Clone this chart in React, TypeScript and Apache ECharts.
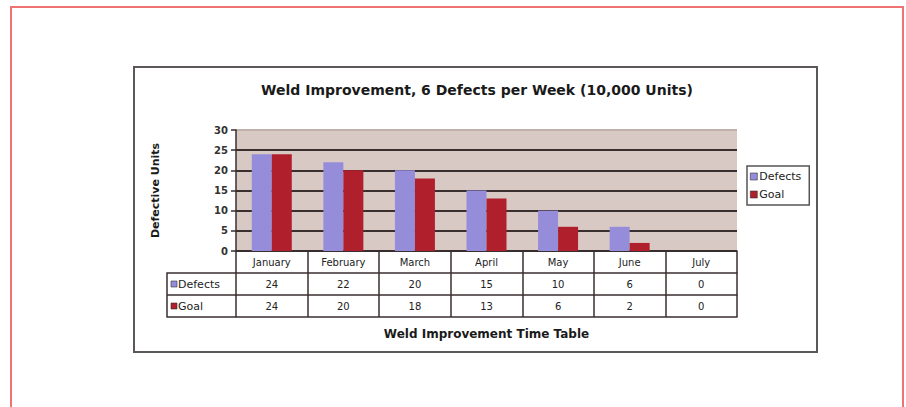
import React, { useEffect, useRef } from "react";
import * as echarts from "echarts";

const months = ["January", "February", "March", "April", "May", "June", "July"];
const defects = [24, 22, 20, 15, 10, 6, 0];
const goal = [24, 20, 18, 13, 6, 2, 0];
const seriesNames = ["Defects", "Goal"];
const yTicks = { min: 0, max: 30, interval: 5 };

const FONT = "DejaVu Sans, Verdana, sans-serif";
const DARK = "#3a2f2f";
const C_DEF = "#958cda";
const C_GOAL = "#b0202c";

export default function App() {
  const ref = useRef<HTMLDivElement>(null);
  useEffect(() => {
    if (!ref.current) return;
    const chart = echarts.init(ref.current, null, { renderer: "svg" });
    const gridLeft = 236;
    const gridRight = 737;
    const gridTop = 130;
    const gridBottom = 251;
    const rowH = 22;
    const tableLeft = 167;
    const cellAxis = (i: number, labels: (number | string)[] | null, extra: any = {}) => ({
      type: "category",
      data: months,
      gridIndex: 0,
      position: "bottom",
      offset: i * rowH,
      boundaryGap: true,
      axisLine: { show: true, lineStyle: { color: DARK, width: 1.5 } },
      axisTick: labels === null ? { show: false } : {
        show: true, interval: 0, inside: false, length: rowH, lineStyle: { color: DARK, width: 1.5 },
      },
      axisLabel: labels === null ? { show: false } : {
        show: true, interval: 0, margin: 6, fontSize: 10, color: "#222", fontFamily: FONT,
        formatter: (_v: string, idx: number) => String(labels[idx]),
      },
      splitLine: { show: false },
      ...extra,
    });
    const option: any = {
      animation: false,
      backgroundColor: "#ffffff",
      textStyle: { fontFamily: FONT },
      title: {
        text: "Weld Improvement, 6 Defects per Week (10,000 Units)",
        left: 472,
        top: 78,
        textAlign: "center",
        textStyle: { fontSize: 14, fontWeight: "bold", color: "#1a1a1a", fontFamily: FONT },
      },
      legend: {
        orient: "vertical",
        left: 747,
        top: 166,
        padding: [5, 8, 5, 3],
        itemGap: 7,
        itemWidth: 7,
        itemHeight: 7,
        icon: "rect",
        borderColor: "#555",
        borderWidth: 1.5,
        backgroundColor: "#fff",
        textStyle: { fontSize: 11, color: "#222", fontFamily: FONT, padding: [0, 0, 0, -3] },
        itemStyle: { borderColor: "#333", borderWidth: 0.6 },
        data: seriesNames,
      },
      grid: {
        left: gridLeft,
        right: 906 - gridRight,
        top: gridTop,
        bottom: 407 - gridBottom,
        show: true,
        backgroundColor: "#d8c9c5",
        borderWidth: 0,
      },
      xAxis: [
        cellAxis(0, months),
        cellAxis(1, defects),
        cellAxis(2, goal),
        cellAxis(3, null, {
          name: "Weld Improvement Time Table",
          nameLocation: "middle",
          nameGap: 11,
          nameTextStyle: { fontSize: 12, fontWeight: "bold", color: "#1a1a1a", fontFamily: FONT },
        }),
      ],
      yAxis: {
        type: "value",
        min: yTicks.min,
        max: yTicks.max,
        interval: yTicks.interval,
        name: "Defective Units",
        nameLocation: "middle",
        nameRotate: 90,
        nameGap: 75,
        nameTextStyle: { fontSize: 11, fontWeight: "bold", color: "#1a1a1a", fontFamily: FONT },
        axisLine: { show: true, lineStyle: { color: DARK, width: 1.5 } },
        axisTick: { show: true, inside: false, length: 5, lineStyle: { color: DARK, width: 1.5 } },
        axisLabel: { fontSize: 10, fontWeight: "bold", color: "#333", margin: 8, fontFamily: FONT },
        splitLine: {
          show: true,
          lineStyle: { color: [DARK, DARK, DARK, DARK, DARK, DARK, "#bfb0ac"], width: 2 },
        },
      },
      series: [
        {
          name: seriesNames[0],
          type: "bar",
          data: defects,
          barWidth: 20,
          barGap: "0%",
          itemStyle: { color: C_DEF },
        },
        {
          name: seriesNames[1],
          type: "bar",
          data: goal,
          barWidth: 20,
          barGap: "0%",
          itemStyle: { color: C_GOAL },
        },
      ],
      graphic: [
        {
          type: "rect",
          z: -10,
          shape: { x: 11, y: 7, width: 892, height: 420 },
          style: { fill: "none", stroke: "#f07272", lineWidth: 2 },
        },
        {
          type: "rect",
          z: -10,
          shape: { x: 134, y: 67, width: 683, height: 285 },
          style: { fill: "none", stroke: "#5c5858", lineWidth: 2 },
        },
        {
          type: "polyline",
          shape: {
            points: [
              [gridLeft, gridBottom + rowH],
              [tableLeft, gridBottom + rowH],
              [tableLeft, gridBottom + rowH * 3],
              [gridLeft, gridBottom + rowH * 3],
            ],
          },
          style: { fill: "none", stroke: DARK, lineWidth: 1.5 },
        },
        {
          type: "line",
          shape: { x1: tableLeft, y1: gridBottom + rowH * 2, x2: gridLeft, y2: gridBottom + rowH * 2 },
          style: { stroke: DARK, lineWidth: 1.5 },
        },
        ...seriesNames.map((n, i) => ({
          type: "group",
          children: [
            {
              type: "rect",
              shape: { x: tableLeft + 4, y: gridBottom + rowH * (i + 1) + rowH / 2 - 3, width: 6, height: 6 },
              style: { fill: i === 0 ? C_DEF : C_GOAL, stroke: "#333", lineWidth: 0.6 },
            },
            {
              type: "text",
              x: tableLeft + 11,
              y: gridBottom + rowH * (i + 1) + rowH / 2,
              style: {
                text: n,
                fontSize: 11,
                fill: "#222",
                fontFamily: FONT,
                textVerticalAlign: "middle",
                verticalAlign: "middle",
              },
            },
          ],
        })),
      ],
    };
    chart.setOption(option);
    return () => chart.dispose();
  }, []);
  return (
    <div
      ref={ref}
      style={{ position: "absolute", left: 0, top: 0, width: 906, height: 407, background: "#fff" }}
    />
  );
}
